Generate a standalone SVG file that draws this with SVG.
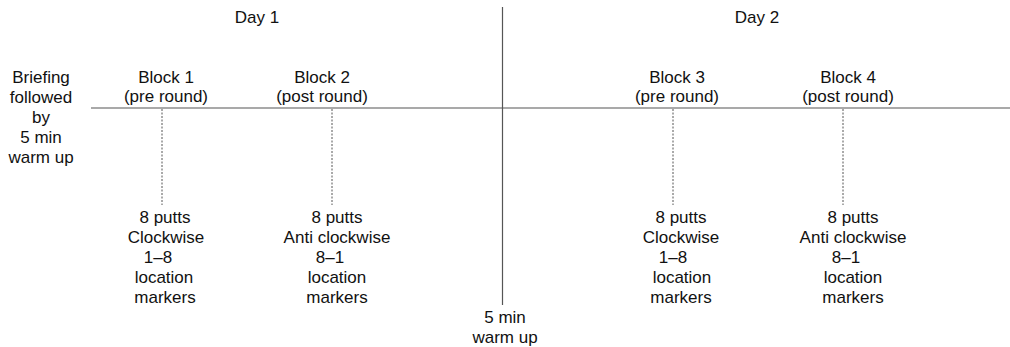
<svg xmlns="http://www.w3.org/2000/svg" width="1010" height="347" viewBox="0 0 1010 347">
<style>
text{font-family:"Liberation Sans",Arial,sans-serif;font-size:17px;fill:#111;text-anchor:middle}
.axis{stroke:#555;stroke-width:1.2;fill:none}
.dash{stroke:#555;stroke-width:1;stroke-dasharray:2 1.5;fill:none}
</style>
<rect width="1010" height="347" fill="#fff"/>
<g id="connectors">
<line class="axis" x1="91" y1="108" x2="1010" y2="108"/>
<line class="axis" x1="502.5" y1="7" x2="502.5" y2="305"/>
<line class="dash" x1="162" y1="109" x2="162" y2="205"/>
<line class="dash" x1="332" y1="109" x2="332" y2="205"/>
<line class="dash" x1="673" y1="109" x2="673" y2="205"/>
<line class="dash" x1="843" y1="109" x2="843" y2="205"/>
</g>
<g id="day1"><text x="257" y="23">Day 1</text></g>
<g id="day2"><text x="757" y="23">Day 2</text></g>
<g id="briefing"><text x="41" y="83">Briefing</text><text x="41" y="103">followed</text><text x="41" y="123">by</text><text x="41" y="143">5 min</text><text x="41" y="163">warm up</text></g>
<g id="block1"><text x="166" y="83">Block 1</text><text x="166" y="102">(pre round)</text></g>
<g id="block2"><text x="322" y="83">Block 2</text><text x="322" y="102">(post round)</text></g>
<g id="block3"><text x="677" y="83">Block 3</text><text x="677" y="102">(pre round)</text></g>
<g id="block4"><text x="848" y="83">Block 4</text><text x="848" y="102">(post round)</text></g>
<g id="putts1"><text x="165" y="223">8 putts</text><text x="166" y="243">Clockwise</text><text x="158" y="263">1–8</text><text x="164" y="283">location</text><text x="165" y="303">markers</text></g>
<g id="putts2"><text x="337" y="223">8 putts</text><text x="337" y="243">Anti clockwise</text><text x="330" y="263">8–1</text><text x="337" y="283">location</text><text x="337" y="303">markers</text></g>
<g id="putts3"><text x="681" y="223">8 putts</text><text x="681" y="243">Clockwise</text><text x="673" y="263">1–8</text><text x="682" y="283">location</text><text x="681" y="303">markers</text></g>
<g id="putts4"><text x="853" y="223">8 putts</text><text x="853" y="243">Anti clockwise</text><text x="846" y="263">8–1</text><text x="853" y="283">location</text><text x="853" y="303">markers</text></g>
<g id="warmup"><text x="505" y="323">5 min</text><text x="505" y="343">warm up</text></g>
</svg>
